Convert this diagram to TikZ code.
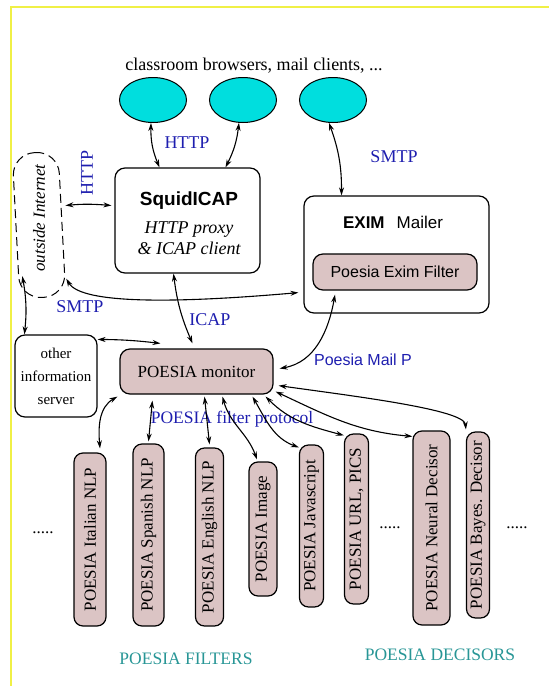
\documentclass[tikz,border=0pt]{standalone}
\usepackage{fontspec}
\setmainfont{Liberation Serif}
\setsansfont{Liberation Sans}
\usetikzlibrary{shapes.geometric, arrows.meta, calc}
\definecolor{clientcyan}{RGB}{0,222,222}
\definecolor{poesiapink}{RGB}{219,196,196}
\definecolor{protoblue}{RGB}{30,30,175}
\definecolor{groupteal}{RGB}{40,150,150}
\definecolor{frameyellow}{RGB}{240,240,70}

\tikzset{
    client/.style={ellipse, draw, line width=1pt, fill=clientcyan,
        minimum width=67pt, minimum height=45pt, inner sep=0pt},
    box/.style={draw, line width=1.2pt, rounded corners=10pt, inner sep=0pt},
    pinkbox/.style={box, fill=poesiapink},
    filt/.style={pinkbox, rotate=90, rounded corners=9pt},
    proto/.style={text=protoblue, inner sep=0pt},
    group/.style={text=groupteal, inner sep=0pt},
    link/.style={{Stealth[length=8pt,width=5pt]}-{Stealth[length=8pt,width=5pt]}, line width=1.1pt},
}

\begin{document}
\begin{tikzpicture}[x=1pt, y=-1pt, font=\fontsize{17}{20}\selectfont]
        \useasboundingbox (0,0) rectangle (549,686);
        \draw[frameyellow, line width=2pt] (11,686) -- (11,7) -- (549,7);

        % clients
        \node[inner sep=0pt, font=\fontsize{18}{20}\selectfont] (title) at (254,66) {classroom browsers, mail clients, ...};
        \node[client] (c1) at (153,100) {};
        \node[client] (c2) at (243,100) {};
        \node[client] (c3) at (333,100) {};

        % proxy, internet, mailer
        \node[box, minimum width=145pt, minimum height=105pt] (squid) at (187.5,220.5) {};
        \node[align=center, inner sep=0pt, font=\itshape\fontsize{18}{21}\selectfont] (squidtext) at (189,223)
            {{\sffamily\bfseries\upshape\fontsize{19}{22}\selectfont SquidICAP}\\[7pt] HTTP proxy\\ \& ICAP client};
        \node[draw, dashed, dash pattern=on 9pt off 5pt, line width=1pt, rounded corners=22pt, rotate=3,
            minimum width=46pt, minimum height=145pt, inner sep=0pt] (internet) at (39,225) {};
        \node[rotate=90, inner sep=0pt, font=\itshape\fontsize{17}{20}\selectfont] (internettext) at (39,218) {outside Internet};
        \node[box, minimum width=185pt, minimum height=117pt] (exim) at (396.5,254.5) {};
        \node[inner sep=0pt, font=\sffamily\fontsize{17}{20}\selectfont] (eximtext) at (393,222) {\textbf{EXIM}\hspace{12pt}Mailer};
        \node[pinkbox, minimum width=164pt, minimum height=36pt, font=\sffamily\fontsize{16}{20}\selectfont] (eximfilter) at (395,272) {Poesia Exim Filter};

        % monitor and server
        \node[box, minimum width=82pt, minimum height=82pt, align=center, font=\fontsize{15}{23}\selectfont] (other) at (56,376) {other\\information\\server};
        \node[pinkbox, minimum width=153pt, minimum height=45pt] (monitor) at (196.5,371.5) {POESIA monitor};

        % filters and decisors
        \node[filt, minimum width=173pt, minimum height=32pt] (italian) at (90,539.5) {POESIA Italian NLP};
        \node[filt, minimum width=182pt, minimum height=31pt] (spanish) at (148.5,535) {POESIA Spanish NLP};
        \node[filt, minimum width=178pt, minimum height=28pt] (english) at (209.5,537) {POESIA English NLP};
        \node[filt, minimum width=134pt, minimum height=28pt] (image) at (263,529) {POESIA Image};
        \node[filt, minimum width=162pt, minimum height=24pt] (javascript) at (311.5,526) {POESIA Javascript};
        \node[filt, minimum width=170pt, minimum height=24pt] (url) at (356.5,519) {POESIA URL, PICS};
        \node[filt, minimum width=194pt, minimum height=37pt] (neural) at (431.5,528) {POESIA Neural Decisor};
        \node[filt, minimum width=186pt, minimum height=23pt] (bayes) at (478,525) {POESIA Bayes. Decisor};

        \node[inner sep=0pt] (dotsa) at (43,533) {.....};
        \node[inner sep=0pt] (dotsb) at (390,528) {.....};
        \node[inner sep=0pt] (dotsc) at (517,528) {.....};
        \node[group, font=\fontsize{17.5}{20}\selectfont] (filters) at (186,659) {POESIA FILTERS};
        \node[group, font=\fontsize{17.5}{20}\selectfont] (decisors) at (440,655) {POESIA DECISORS};

        % protocol labels
        \node[proto, font=\fontsize{18}{20}\selectfont] (httpa) at (187,143) {HTTP};
        \node[proto, font=\fontsize{18}{20}\selectfont] (smtpa) at (394,157) {SMTP};
        \node[proto, rotate=90, font=\fontsize{18}{20}\selectfont] (httpb) at (87,173) {HTTP};
        \node[proto, font=\fontsize{18}{20}\selectfont] (smtpb) at (80,307) {SMTP};
        \node[proto, font=\fontsize{18}{20}\selectfont] (icap) at (210,320) {ICAP};
        \node[proto, font=\sffamily\fontsize{16}{20}\selectfont] (mailp) at (363,360) {Poesia Mail P};
        \node[proto, font=\fontsize{17.5}{20}\selectfont] (filterp) at (232,419) {POESIA filter protocol};

        \draw[link] (c1.-95) to[bend right=12] ([xshift=-28pt]squid.north);
        \draw[link] (c2.-100) to[bend left=10] ([xshift=38pt]squid.north);
        \draw[link] (c3.-100) to[bend left=10] ([xshift=-55pt]exim.north);
        \draw[link, shorten <=3pt] ([yshift=18pt]internet.east) to[bend left=5] ([yshift=15pt,xshift=-3pt]squid.west);
        \draw[link] ([yshift=18pt]internet.south east)
            to[out=-60, in=185, out distance=30pt, in distance=120pt] ([yshift=21pt,xshift=-5pt]exim.south west);
        \draw[link] ([xshift=3pt,yshift=23pt]internet.south west) to[bend left=8] ([xshift=10pt]other.north west);
        \draw[link] ([xshift=-14pt]squid.south) to[bend right=8] ([xshift=-4pt,yshift=5pt]monitor.north);
        \draw[link] ([yshift=-5pt]other.north east) to[bend left=3] ([xshift=-36pt,yshift=5pt]monitor.north);
        \draw[link] ([xshift=-60pt,yshift=-4pt]eximfilter.south) to[out=-100, in=10] ([xshift=6pt,yshift=3pt]monitor.east);

        \draw[link] ([xshift=-2pt,yshift=-2pt]monitor.south west) to[out=210, in=95] ([xshift=10pt,yshift=4pt]italian.east);
        \draw[link] ([xshift=33pt,yshift=-6pt]monitor.south west) -- ([yshift=2pt]spanish.east);
        \draw[link] ([xshift=8pt,yshift=-2pt]monitor.south) -- ([yshift=3pt]english.east);
        \draw[link] ([xshift=26pt,yshift=-2pt]monitor.south) to[out=-75, in=110] ([xshift=-6pt,yshift=2pt]image.east);
        \draw[link] ([xshift=56pt,yshift=-2pt]monitor.south) to[out=-60, in=160] ([yshift=-3pt]javascript.north east);
        \draw[link] ([xshift=-8pt,yshift=-2pt]monitor.south east) to[out=-45, in=165] ([yshift=-2pt]url.north east);
        \draw[link] ([xshift=2pt,yshift=3pt]monitor.south east) to[out=-25, in=175] ([yshift=-6pt]neural.north east);
        \draw[link] ([xshift=5pt,yshift=9pt]monitor.south east) to[out=-8, in=95, in distance=20pt] ([yshift=2pt]bayes.north east);
\end{tikzpicture}
\end{document}
